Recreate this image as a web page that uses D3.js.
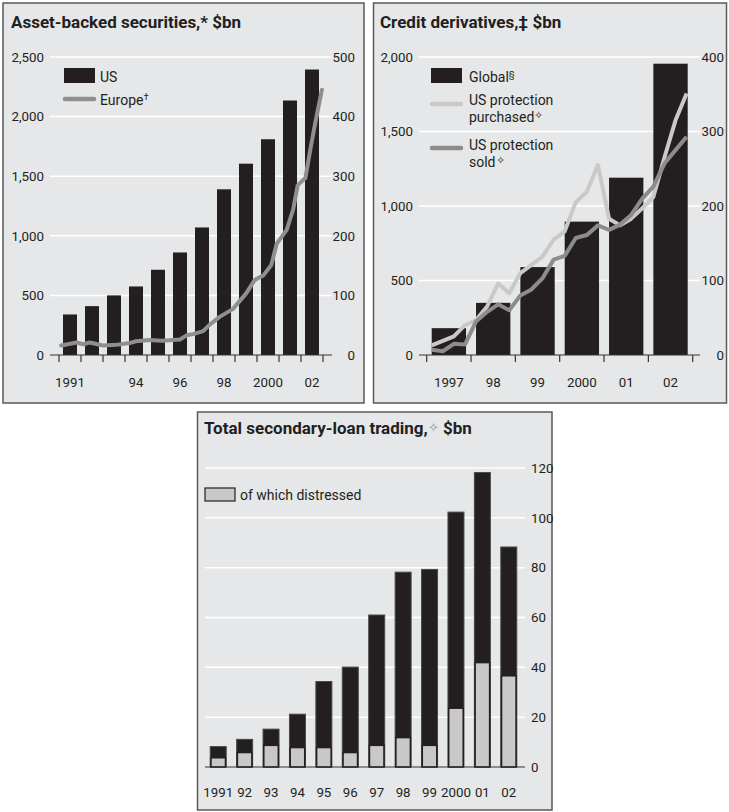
<!DOCTYPE html>
<html>
<head>
<meta charset="utf-8">
<script src="https://cdn.jsdelivr.net/npm/d3@7"></script>
<style>
  body { margin: 0; background: #fff; }
  svg text { font-family: Roboto, "Open Sans", sans-serif; fill: #231f20; }
</style>
</head>
<body>
<svg id="chart" width="729" height="812"></svg>
<script>
// ---- data ----
const absYears = [1991, 1992, 1993, 1994, 1995, 1996, 1997, 1998, 1999, 2000, 2001, 2002];
const absLabels = ["1991", "", "", "94", "", "96", "", "98", "", "2000", "", "02"];
const absUS = [340, 410, 500, 575, 715, 860, 1070, 1390, 1605, 1810, 2135, 2395];
// Europe line, decimal year and value (right axis)
const europeTime = [1991.1, 1991.8, 1992.1, 1992.4, 1993.0, 1993.6, 1994.2, 1994.5, 1995.1, 1995.7,
  1996.5, 1996.8, 1997.1, 1997.55, 1997.85, 1998.3, 1998.9, 1999.5, 1999.9, 2000.3,
  2000.65, 2000.9, 2001.35, 2001.65, 2001.85, 2002.2, 2002.45, 2002.65, 2002.95];
const europeVal = [16, 21, 18, 21, 16, 17, 20, 23, 25, 24,
  26, 33, 35, 40, 51, 64, 77, 103, 126, 134,
  151, 187, 210, 245, 285, 297, 350, 390, 445];

const cdYears = [1997, 1998, 1999, 2000, 2001, 2002];
const cdLabels = ["1997", "98", "99", "2000", "01", "02"];
const cdGlobal = [180, 350, 590, 895, 1190, 1955];
// quarterly, Q1 1997 .. Q4 2002 (right axis)
const cdPurchased = [13, 19, 25, 40, 47, 65, 96, 83, 110, 121, 132, 155,
  166, 205, 219, 255, 183, 174, 183, 197, 212, 265, 315, 351];
const cdSold = [7, 5, 15, 14, 45, 58, 68, 60, 80, 88, 103, 128,
  133, 157, 161, 174, 168, 175, 188, 210, 226, 257, 275, 293];

const slYears = [1991, 1992, 1993, 1994, 1995, 1996, 1997, 1998, 1999, 2000, 2001, 2002];
const slLabels = ["1991", "92", "93", "94", "95", "96", "97", "98", "99", "2000", "01", "02"];
const slTotal = [8.2, 11.1, 15.2, 21.2, 34.3, 40.1, 61, 78.2, 79.3, 102.3, 118.2, 88.3];
const slDistressed = [3.7, 5.8, 8.7, 7.8, 7.8, 5.8, 8.7, 11.8, 8.7, 23.6, 41.9, 36.6];

const BG = "#e6e7e8", BAR = "#231f20", AXIS = "#333";
const TICK_FS = "13.3px", LEG_FS = "14px", TITLE_FS = "17px";

const svg = d3.select("#chart");

function panel(x0, y0, x1, y1) {
  svg.append("rect")
    .attr("x", x0).attr("y", y0).attr("width", x1 - x0).attr("height", y1 - y0)
    .attr("fill", BG).attr("stroke", "#595959").attr("stroke-width", 1.5);
}

function title(x, y, parts) {
  const t = svg.append("text").attr("x", x).attr("y", y)
    .style("font-size", TITLE_FS).style("font-weight", "bold");
  parts.forEach(p => {
    const s = t.append("tspan").text(p.t);
    if (p.sym) s.style("fill", "#9a9a9a").style("font-weight", "normal").style("font-size", "13px").attr("baseline-shift", "2");
  });
}

function grid(y, ticks, xa, xb) {
  svg.append("g").selectAll("line").data(ticks.filter(d => d !== 0)).join("line")
    .attr("x1", xa).attr("x2", xb).attr("y1", d => y(d)).attr("y2", d => y(d))
    .attr("stroke", "#fff").attr("stroke-width", 1.5);
}

function labels(y, ticks, x, anchor, fmt) {
  svg.append("g").selectAll("text").data(ticks).join("text")
    .attr("x", x).attr("y", d => y(d)).attr("dy", "0.36em")
    .attr("text-anchor", anchor).style("font-size", TICK_FS)
    .text(fmt);
}

const comma = d3.format(",");

// ================= Asset-backed securities =================
panel(3, 3, 364, 403);
title(11, 28, [{t: "Asset-backed securities,* $bn"}]);

const y1 = d3.scaleLinear().domain([0, 2500]).range([355, 57]);
const y1r = d3.scaleLinear().domain([0, 500]).range([355, 57]);
const x1 = d3.scaleBand().domain(absYears).range([59, 323]);
const t1 = d3.scaleLinear().domain([1991, 2003]).range([59, 323]);

grid(y1, d3.range(0, 2501, 500), 50, 332);
labels(y1, d3.range(0, 2501, 500), 44, "end", comma);
labels(y1r, d3.range(0, 501, 100), 355, "end", d => d);

svg.append("g").selectAll("rect").data(absUS).join("rect")
  .attr("x", (d, i) => x1(absYears[i]) + 4)
  .attr("width", x1.bandwidth() - 8)
  .attr("y", d => y1(d)).attr("height", d => y1(0) - y1(d))
  .attr("fill", BAR);

svg.append("path")
  .datum(europeTime.map((t, i) => [t, europeVal[i]]))
  .attr("fill", "none").attr("stroke", "#8f8f8f").attr("stroke-width", 4)
  .attr("stroke-linejoin", "round").attr("stroke-linecap", "round")
  .attr("d", d3.line().x(d => t1(d[0])).y(d => y1r(d[1])));

svg.append("line").attr("x1", 50).attr("x2", 332).attr("y1", 355).attr("y2", 355)
  .attr("stroke", AXIS).attr("stroke-width", 1.2);
svg.append("g").selectAll("line").data(d3.range(13)).join("line")
  .attr("x1", i => 59 + i * x1.bandwidth()).attr("x2", i => 59 + i * x1.bandwidth())
  .attr("y1", 355).attr("y2", 362).attr("stroke", AXIS).attr("stroke-width", 1.2);
svg.append("g").selectAll("text").data(absYears).join("text")
  .attr("x", d => x1(d) + x1.bandwidth() / 2).attr("y", 387)
  .attr("text-anchor", "middle").style("font-size", TICK_FS)
  .text((d, i) => absLabels[i]);

// legend
svg.append("rect").attr("x", 64).attr("y", 68).attr("width", 31).attr("height", 15).attr("fill", BAR);
svg.append("text").attr("x", 100).attr("y", 82).style("font-size", LEG_FS).text("US");
svg.append("line").attr("x1", 65).attr("x2", 94).attr("y1", 99).attr("y2", 99)
  .attr("stroke", "#8f8f8f").attr("stroke-width", 4.5).attr("stroke-linecap", "round");
const eu = svg.append("text").attr("x", 100).attr("y", 105).style("font-size", LEG_FS);
eu.append("tspan").text("Europe");
eu.append("tspan").text("†").style("font-size", "9.5px").attr("baseline-shift", "5");

// ================= Credit derivatives =================
panel(373.5, 3, 726.5, 403);
title(380, 28, [{t: "Credit derivatives,‡ $bn"}]);

const y2 = d3.scaleLinear().domain([0, 2000]).range([355, 57]);
const y2r = d3.scaleLinear().domain([0, 400]).range([355, 57]);
const x2 = d3.scaleBand().domain(cdYears).range([426.7, 692.7]);
const t2 = d3.scaleLinear().domain([1997, 2003]).range([426.7, 692.7]);

grid(y2, d3.range(0, 2001, 500), 419, 700);
labels(y2, d3.range(0, 2001, 500), 413, "end", comma);
labels(y2r, d3.range(0, 401, 100), 724, "end", d => d);

svg.append("g").selectAll("rect").data(cdGlobal).join("rect")
  .attr("x", (d, i) => x2(cdYears[i]) + 5)
  .attr("width", x2.bandwidth() - 10)
  .attr("y", d => y2(d)).attr("height", d => y2(0) - y2(d))
  .attr("fill", BAR);

// quarter positions inside each year
const quarters = cdYears.flatMap(y => [1, 2, 3, 4].map(q => y + (q - 0.55) / 4));
const qline = d3.line().x((d, i) => t2(quarters[i])).y(d => y2r(d));
svg.append("path").datum(cdPurchased)
  .attr("fill", "none").attr("stroke", "#c9c9c9").attr("stroke-width", 4)
  .attr("stroke-linejoin", "round").attr("d", qline);
svg.append("path").datum(cdSold)
  .attr("fill", "none").attr("stroke", "#8c8c8c").attr("stroke-width", 4)
  .attr("stroke-linejoin", "round").attr("d", qline);

svg.append("line").attr("x1", 419).attr("x2", 700).attr("y1", 355).attr("y2", 355)
  .attr("stroke", AXIS).attr("stroke-width", 1.2);
svg.append("g").selectAll("line").data(d3.range(7)).join("line")
  .attr("x1", i => 426.7 + i * x2.bandwidth()).attr("x2", i => 426.7 + i * x2.bandwidth())
  .attr("y1", 355).attr("y2", 362).attr("stroke", AXIS).attr("stroke-width", 1.2);
svg.append("g").selectAll("text").data(cdYears).join("text")
  .attr("x", d => x2(d) + x2.bandwidth() / 2).attr("y", 387)
  .attr("text-anchor", "middle").style("font-size", TICK_FS)
  .text((d, i) => cdLabels[i]);

// legend
svg.append("rect").attr("x", 431).attr("y", 68).attr("width", 31).attr("height", 15).attr("fill", BAR);
const gl = svg.append("text").attr("x", 469).attr("y", 82).style("font-size", LEG_FS);
gl.append("tspan").text("Global");
gl.append("tspan").text("§").style("font-size", "9.5px").attr("baseline-shift", "4");
svg.append("line").attr("x1", 432).attr("x2", 461).attr("y1", 104).attr("y2", 104)
  .attr("stroke", "#c9c9c9").attr("stroke-width", 4.5).attr("stroke-linecap", "round");
svg.append("text").attr("x", 469).attr("y", 105).style("font-size", LEG_FS).text("US protection");
const pu = svg.append("text").attr("x", 469).attr("y", 122).style("font-size", LEG_FS);
pu.append("tspan").text("purchased");
pu.append("tspan").text("✧").style("font-size", "11px").attr("baseline-shift", "3");
svg.append("line").attr("x1", 432).attr("x2", 461).attr("y1", 148).attr("y2", 148)
  .attr("stroke", "#8c8c8c").attr("stroke-width", 4.5).attr("stroke-linecap", "round");
svg.append("text").attr("x", 469).attr("y", 150).style("font-size", LEG_FS).text("US protection");
const so = svg.append("text").attr("x", 469).attr("y", 167).style("font-size", LEG_FS);
so.append("tspan").text("sold");
so.append("tspan").text("✧").style("font-size", "11px").attr("baseline-shift", "3");

// ================= Secondary-loan trading =================
panel(197.5, 412, 552, 810);
title(204, 434, [{t: "Total secondary-loan trading,"}, {t: "✧", sym: true}, {t: "  $bn"}]);

const y3 = d3.scaleLinear().domain([0, 120]).range([767, 468]);
const x3 = d3.scaleBand().domain(slYears).range([205, 522]);

grid(y3, d3.range(0, 121, 20), 205, 525);
labels(y3, d3.range(0, 121, 20), 531, "start", d => d);

const bw3 = 16;
svg.append("g").selectAll("rect").data(slTotal).join("rect")
  .attr("x", (d, i) => x3(slYears[i]) + (x3.bandwidth() - bw3) / 2)
  .attr("width", bw3)
  .attr("y", d => y3(d)).attr("height", d => y3(0) - y3(d))
  .attr("fill", BAR).attr("stroke", "#4a4a4a").attr("stroke-width", 1);
svg.append("g").selectAll("rect").data(slDistressed).join("rect")
  .attr("x", (d, i) => x3(slYears[i]) + (x3.bandwidth() - bw3) / 2 + 0.75)
  .attr("width", bw3 - 1.5)
  .attr("y", d => y3(d)).attr("height", d => y3(0) - y3(d))
  .attr("fill", "#c8c8c8").attr("stroke", BAR).attr("stroke-width", 1.5);

svg.append("line").attr("x1", 205).attr("x2", 525).attr("y1", 767).attr("y2", 767)
  .attr("stroke", AXIS).attr("stroke-width", 1.2);
svg.append("g").selectAll("text").data(slYears).join("text")
  .attr("x", d => x3(d) + x3.bandwidth() / 2).attr("y", 797)
  .attr("text-anchor", "middle").style("font-size", TICK_FS)
  .text((d, i) => slLabels[i]);

// legend
svg.append("rect").attr("x", 205).attr("y", 488).attr("width", 30).attr("height", 13)
  .attr("fill", "#c8c8c8").attr("stroke", BAR).attr("stroke-width", 1.2);
svg.append("text").attr("x", 240).attr("y", 500).style("font-size", LEG_FS).text("of which distressed");
</script>
</body>
</html>
